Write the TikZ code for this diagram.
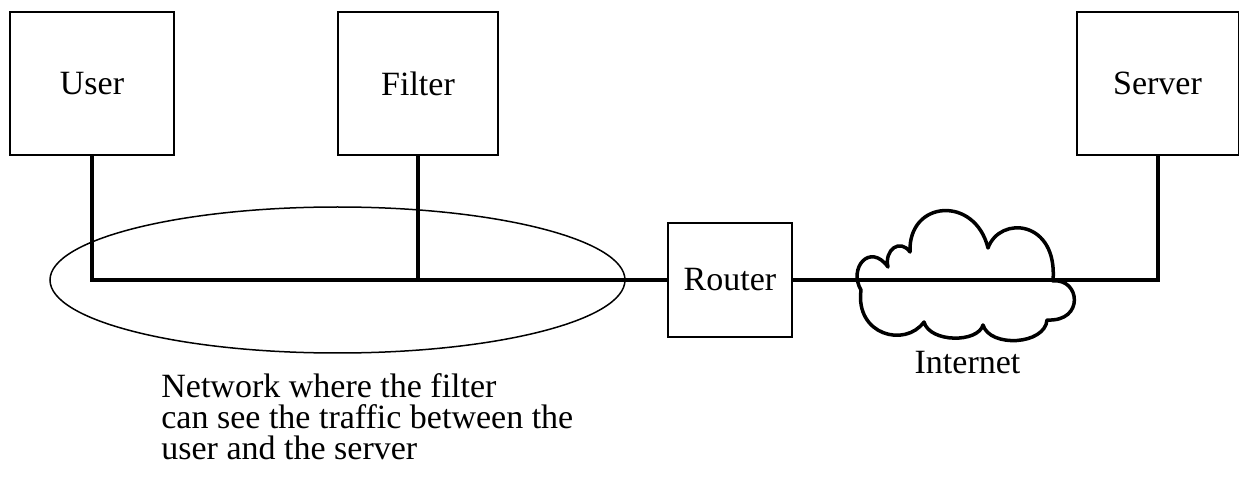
\documentclass[tikz,border=0pt]{standalone}
\usepackage{fontspec}
\setmainfont{Liberation Serif}
\usetikzlibrary{shapes.geometric}
\begin{document}
\begin{tikzpicture}[x=0.5pt,y=-0.5pt,
  hostbox/.style={draw, line width=1pt, minimum height=71.5pt, inner sep=0pt, font=\fontsize{17}{20}\selectfont},
  bus/.style={line width=2pt},
  cloudline/.style={line width=1.75pt, line join=round}]
\useasboundingbox (0,0) rectangle (1239,481);
\node[hostbox, minimum width=82pt] (user) at (92,83.5){User};
\node[hostbox, minimum width=80pt] (filter) at (418,83.5){Filter};
\node[hostbox, minimum width=81pt] (server) at (1157.5,83.5){Server};
\node[hostbox, minimum width=62pt, minimum height=57pt] (router) at (730,280){Router};
\node[draw, ellipse, line width=0.75pt, minimum width=287.5pt, minimum height=73pt, inner sep=0pt] (lan) at (337.5,280){};
% cloud
\draw[cloudline] (861,290) .. controls (848,268) and (870,242) .. (888,267)
  .. controls (884,250) and (900,238) .. (910,252)
  .. controls (908,200) and (975,195) .. (988,248)
  .. controls (1000,215) and (1058,220) .. (1053,281)
  .. controls (1080,278) and (1085,322) .. (1047,320)
  .. controls (1045,345) and (990,348) .. (983,325)
  .. controls (978,343) and (930,343) .. (924,322)
  .. controls (905,348) and (855,335) .. cycle;
\draw[bus] (user.south) |- (router.west);
\draw[bus] (filter.south) -- (filter.south |- router.west);
\draw[bus] (router.east) -| (server.south);
\node[anchor=base, inner sep=0pt, font=\fontsize{17}{20}\selectfont] (internet) at (967.5,373){Internet};
\node[anchor=north west, inner sep=0pt, align=left, font=\fontsize{17}{15.5}\selectfont] (note) at (161,373.5){Network where the filter\\can see the traffic between the\\user and the server};
\end{tikzpicture}
\end{document}
